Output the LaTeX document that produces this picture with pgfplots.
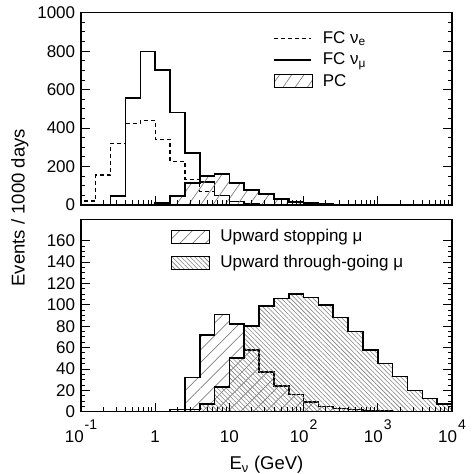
\documentclass[border=0pt]{standalone}
\usepackage{fontspec}
\setmainfont{Liberation Sans}
\usepackage{pgfplots}
\pgfplotsset{compat=1.18}
\usetikzlibrary{patterns.meta}
\newcommand{\tp}[1]{10\kern1pt\raisebox{13pt}{\fontsize{14}{14}\selectfont #1}}
\pgfplotsset{
  /pgfplots/lineleg/.style={legend image code/.code={\draw[##1] (0pt,0pt) -- (37pt,0pt);}},
  /pgfplots/boxleg/.style={legend image code/.code={\draw[##1,line width=1.2pt] (0pt,-6.5pt) rectangle (38pt,6.5pt);}},
}
\begin{document}
\fontsize{17}{20}\selectfont
\begin{tikzpicture}
\path[use as bounding box] (0pt,0pt) rectangle (475pt,474pt);
% ---------- top panel ----------
\begin{semilogxaxis}[at={(81pt,269pt)}, anchor=south west,
  scale only axis, width=371pt, height=192.3pt,
  xmin=0.1, xmax=10000,
  xtick={0.1,1,10,100,1000,10000},
  minor xtick={0.2,0.3,0.4,0.5,0.6,0.7,0.8,0.9,2,3,4,5,6,7,8,9,20,30,40,50,60,70,80,90,200,300,400,500,600,700,800,900,2000,3000,4000,5000,6000,7000,8000,9000},
  xtick pos=left, ytick pos=both, tick align=inside,
  major tick length=9pt, minor tick length=4.5pt,
  axis line style={line width=1.2pt},
  every tick/.style={black, line width=0.9pt},
  tick label style={font=\fontsize{17}{20}\selectfont},
  yticklabel style={/pgf/number format/assume math mode=true, /pgf/number format/1000 sep={}},
  axis on top,
  ymin=0, ymax=1000, ytick={0,200,...,1000}, minor y tick num=3,
  xticklabels={},
  legend cell align=left,
  legend style={draw=none, fill=none, at={(0.51,0.925)}, anchor=north west,
    font=\fontsize{17}{20}\selectfont, row sep=3pt, column sep=8pt},
]
\addplot[const plot, lineleg, black, line width=1.3pt, dash pattern=on 4pt off 3pt] coordinates {
(0.1,0) (0.1,20) (0.15849,156) (0.25119,321) (0.39811,422) (0.63096,439) (1,342) (1.58489,227) (2.51189,134) (3.98107,69) (6.30957,50) (10,17) (15.8489,6) (25.1189,2) (39.8107,0)};
\addlegendentry{FC ν\textsubscript{e}}
\addplot[const plot, lineleg, black, line width=1.6pt] coordinates {
(0.25119,0) (0.25119,48) (0.39811,555) (0.63096,798) (1,703) (1.58489,481) (2.51189,269) (3.98107,120) (6.30957,50) (10,18) (15.8489,7) (25.1189,3) (39.8107,0)};
\addlegendentry{FC ν\textsubscript{μ}}
\addplot[const plot, boxleg, draw=black, line width=1.6pt, pattern={Lines[angle=55,distance=10pt,line width=0.7pt]}, pattern color=gray] coordinates {
(1,0) (1,10) (1.58489,47) (2.51189,113) (3.98107,151) (6.30957,160) (10,113) (15.8489,78) (25.1189,56) (39.8107,31) (63.0957,17) (100,9) (158.489,5) (251.189,2) (398.107,0)} \closedcycle;
\addlegendentry{PC}
\end{semilogxaxis}
% ---------- bottom panel ----------
\begin{semilogxaxis}[at={(81pt,62.3pt)}, anchor=south west,
  scale only axis, width=371pt, height=192.3pt,
  xmin=0.1, xmax=10000,
  xtick={0.1,1,10,100,1000,10000},
  minor xtick={0.2,0.3,0.4,0.5,0.6,0.7,0.8,0.9,2,3,4,5,6,7,8,9,20,30,40,50,60,70,80,90,200,300,400,500,600,700,800,900,2000,3000,4000,5000,6000,7000,8000,9000},
  xtick pos=left, ytick pos=both, tick align=inside,
  major tick length=9pt, minor tick length=4.5pt,
  axis line style={line width=1.2pt},
  every tick/.style={black, line width=0.9pt},
  tick label style={font=\fontsize{17}{20}\selectfont},
  yticklabel style={/pgf/number format/assume math mode=true, /pgf/number format/1000 sep={}},
  axis on top,
  ymin=0, ymax=180, ytick={0,20,...,160}, minor y tick num=3,
  xticklabels={\tp{-1},1,10,\tp{2},\tp{3},\tp{4}},
  xticklabel style={anchor=base, yshift=-31pt},
  xlabel={E\textsubscript{ν} (GeV)},
  xlabel style={at={(axis description cs:0.5,0)}, anchor=base, yshift=-58pt, font=\fontsize{18.5}{20}\selectfont},
  ylabel={Events / 1000 days},
  ylabel style={at={(axis description cs:-0.165,1.06)}, anchor=center, rotate=0, font=\fontsize{18.5}{20}\selectfont},
  legend cell align=left,
  legend style={draw=none, fill=none, at={(0.2345,0.97)}, anchor=north west,
    font=\fontsize{17}{20}\selectfont, row sep=7pt, column sep=8pt},
]
\addplot[const plot, boxleg, draw=black, line width=1.6pt, pattern={Lines[angle=45,distance=9pt,line width=0.7pt]}, pattern color=gray] coordinates {
(1.58489,0) (1.58489,2) (2.51189,32) (3.98107,72) (6.30957,91) (10,82) (15.8489,58) (25.1189,37) (39.8107,24) (63.0957,16) (100,9) (158.489,5) (251.189,3) (398.107,2) (630.957,1) (1000,1) (1584.89,0)} \closedcycle;
\addlegendentry{Upward stopping μ}
\addplot[const plot, boxleg, draw=black, line width=1.6pt, pattern={Lines[angle=-45,distance=3.2pt,line width=0.6pt]}, pattern color=gray] coordinates {
(2.51189,0) (2.51189,2) (3.98107,7) (6.30957,23) (10,50) (15.8489,80) (25.1189,99) (39.8107,106) (63.0957,110) (100,107) (158.489,100) (251.189,88) (398.107,75) (630.957,58) (1000,45) (1584.89,33) (2511.89,20) (3981.07,12.5) (6309.57,7) (10000,0)} \closedcycle;
\addlegendentry{Upward through-going μ}
\end{semilogxaxis}
\end{tikzpicture}
\end{document}
